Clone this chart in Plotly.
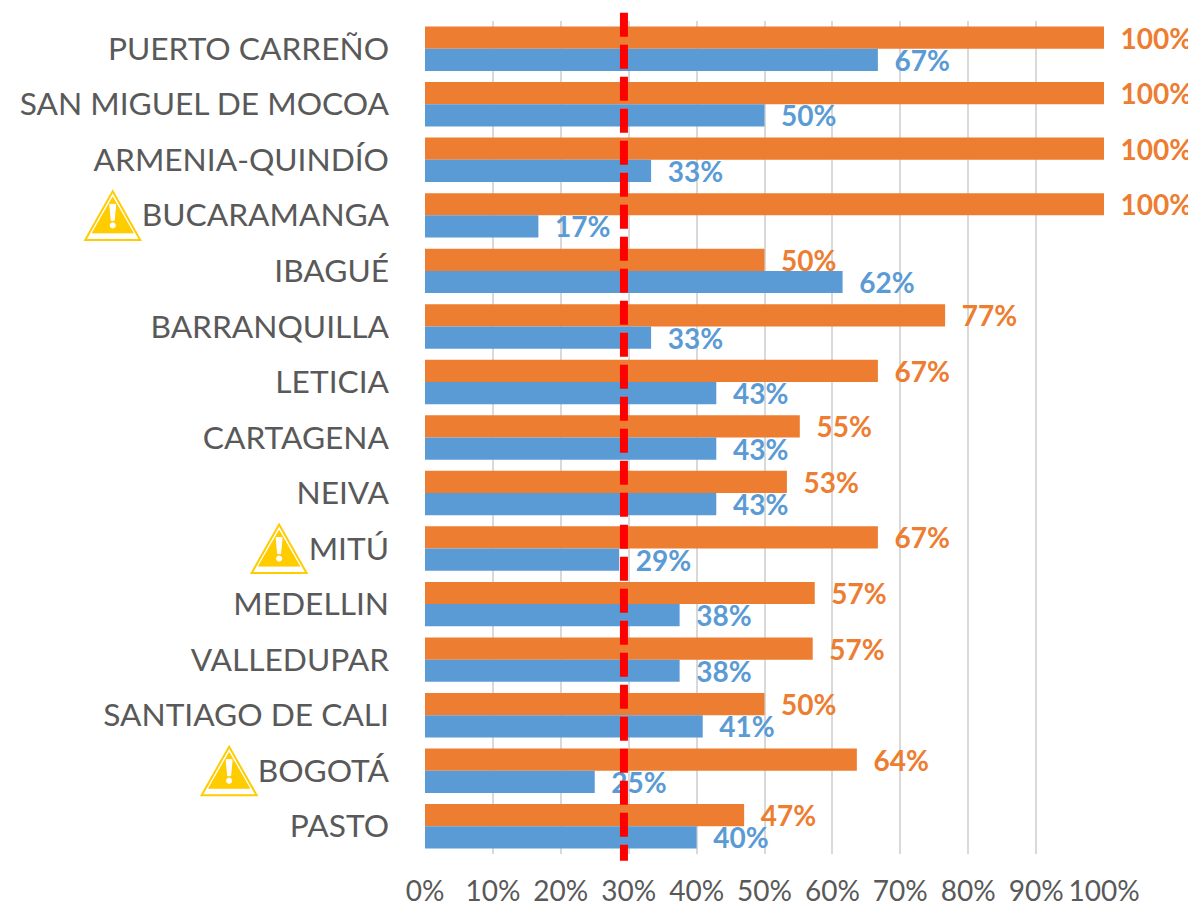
import plotly.graph_objects as go

W, H = 1196, 909
categories = ["PUERTO CARREÑO", "SAN MIGUEL DE MOCOA", "ARMENIA-QUINDÍO", "BUCARAMANGA", "IBAGUÉ",
              "BARRANQUILLA", "LETICIA", "CARTAGENA", "NEIVA", "MITÚ", "MEDELLIN", "VALLEDUPAR",
              "SANTIAGO DE CALI", "BOGOTÁ", "PASTO"]
orange_values = [100, 100, 100, 100, 50, 76.6, 66.7, 55.2, 53.3, 66.7, 57.4, 57.1, 50, 63.6, 47]
blue_values = [66.7, 50, 33.3, 16.7, 61.5, 33.3, 42.9, 42.9, 42.9, 28.6, 37.5, 37.5, 40.9, 25, 40]
threshold = 29.3
warning_categories = ["BUCARAMANGA", "MITÚ", "BOGOTÁ"]
warning_centers_px = [112, 278.5, 228.5]
tick_values = list(range(0, 101, 10))
tick_labels = [f"{v}%" for v in tick_values]

OFF = 8  # default page body margin
ML, MR, MT, MB = 424.5, 92, 21.3, 55.3
FONT = "Lato"
ORANGE, BLUE, GRAY = "#ED7D31", "#5B9BD5", "#595959"
PW, PH = W - ML - MR, H - MT - MB

fig = go.Figure()
for name, vals, col in [("orange", orange_values, ORANGE), ("blue", blue_values, BLUE)]:
    fig.add_bar(name=name, y=categories, x=vals, orientation="h", marker=dict(color=col, line_width=0),
                text=[f"\u00a0\u00a0{v:.0f}%" for v in vals], textposition="outside", cliponaxis=False,
                textangle=0, constraintext="none",
                textfont=dict(family=FONT, size=28, color=col, weight="bold"))

fx = lambda p: (p - ML) / PW
fy = lambda p: 1 - (p - MT) / PH
def tri(cx, top, half, bot):
    return (f"M{fx(cx)},{fy(top)} L{fx(cx+half)},{fy(bot)} L{fx(cx-half)},{fy(bot)} Z")

shapes = [dict(type="line", xref="x", yref="paper", x0=threshold, x1=threshold,
               y0=fy(13), y1=fy(860.5), layer="above",
               line=dict(color="#FF0000", width=8, dash="24px,8px"))]
step = PH / len(categories)
for cat, cx in zip(warning_categories, warning_centers_px):
    cy = MT + step * (categories.index(cat) + 0.5)
    shapes.append(dict(type="path", xref="paper", yref="paper", path=tri(cx, cy - 24, 27.5, cy + 24.5),
                       fillcolor="#FFFFFF", line=dict(color="#FFCC00", width=2), layer="above"))
    shapes.append(dict(type="path", xref="paper", yref="paper", path=tri(cx, cy - 18, 20.5, cy + 17.5),
                       fillcolor="#FFCC00", line=dict(color="#FFCC00", width=1), layer="above"))
    shapes.append(dict(type="path", xref="paper", yref="paper",
                       path=f"M{fx(cx-3)},{fy(cy-11)} L{fx(cx+3)},{fy(cy-11)} L{fx(cx+1.5)},{fy(cy+5)} L{fx(cx-1.5)},{fy(cy+5)} Z",
                       fillcolor="#FFFFFF", line=dict(color="#FFFFFF", width=1), layer="above"))
    shapes.append(dict(type="circle", xref="paper", yref="paper", x0=fx(cx-2.6), x1=fx(cx+2.6),
                       y0=fy(cy+12.6), y1=fy(cy+7.4), fillcolor="#FFFFFF",
                       line=dict(color="#FFFFFF", width=1), layer="above"))

fig.update_layout(width=W - OFF, height=H - OFF - 1,
                  margin=dict(l=ML - OFF, r=MR, t=MT - OFF, b=MB - 1, pad=0, autoexpand=False),
                  paper_bgcolor="white", plot_bgcolor="white", barmode="group", bargap=0.2, bargroupgap=0,
                  showlegend=False, shapes=shapes, font=dict(family=FONT, color=GRAY),
                  xaxis=dict(range=[0, 100], tickvals=tick_values, ticktext=tick_labels, showgrid=True,
                             gridcolor="#D9D9D9", gridwidth=2, zeroline=False, showline=False,
                             ticks="", ticklabelstandoff=18, tickfont=dict(family=FONT, size=28, color=GRAY)),
                  yaxis=dict(autorange="reversed", showgrid=False, zeroline=False, showline=False, ticks="",
                             ticklabelstandoff=35, tickfont=dict(family=FONT, size=31.7, color=GRAY)))
fig.write_html("out.html")
